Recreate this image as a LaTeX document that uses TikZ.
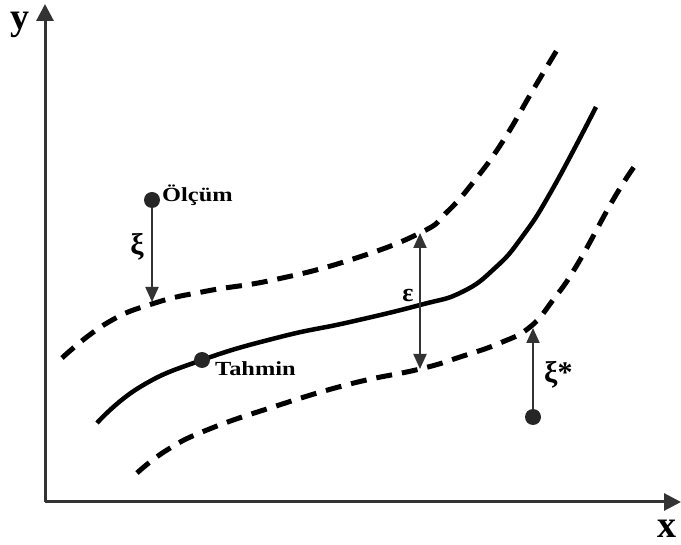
\documentclass[tikz,border=0pt]{standalone}
\usepackage{fontspec}
\setmainfont{Liberation Serif}
\newfontfamily\widefont{Liberation Serif}[FakeStretch=1.22]
\usetikzlibrary{arrows.meta, positioning}

\begin{document}
\begin{tikzpicture}[
    x=1pt, y=-1pt,
    axis/.style={draw=black!80, line width=3pt, -{Triangle[length=17pt, width=17pt]}},
    gap/.style={draw=black!80, line width=2pt, -{Triangle[length=15pt, width=13pt]}},
    band/.style={line width=5pt, dash pattern=on 16pt off 10pt},
    fitline/.style={line width=4.5pt},
    dot/.style={circle, fill=black!85, minimum size=16pt, inner sep=0pt, outer sep=0pt},
    lbl/.style={font=\widefont\fontsize{20}{22}\selectfont\bfseries, inner sep=0pt},
    sym/.style={font=\fontsize{30}{32}\selectfont\bfseries, inner sep=0pt},
    axlbl/.style={font=\fontsize{38}{40}\selectfont\bfseries, inner sep=0pt}
]
    \useasboundingbox (0,0) rectangle (681,545);

    % eksenler
    \coordinate (origin) at (45,502);
    \coordinate (ytip) at (45,4);
    \coordinate (xtip) at (681,502);
    \draw[axis] (origin) -- (ytip);
    \draw[axis] (origin) -- (xtip);
    \node[axlbl] (ylab) at (20,25) {y};
    \node[axlbl] (xlab) at (667,529) {x};

    % egriler
    \draw[band] plot[smooth, tension=0.8] coordinates {(62,358) (107,323) (155,303) (207,291) (273,280) (350,260) (420,233) (447,212) (475,180) (503,141) (533,90) (557,50)};
    \draw[fitline] plot[smooth, tension=0.8] coordinates {(97,423) (140,387) (202,360) (280,337) (350,322) (420,305) (462,292) (495,268) (522,237) (552,190) (596,107)};
    \draw[band] plot[smooth, tension=0.8] coordinates {(137,473) (167,450) (207,430) (273,407) (350,384) (420,369) (460,357) (500,343) (530,327) (553,300) (577,265) (613,200) (634,167)};

    \coordinate (xiend) at (152,302);
    \coordinate (epstop) at (420,233);
    \coordinate (epsbot) at (420,369);
    \coordinate (xistarend) at (533,328);

    % noktalar
    \node[dot] (olcum) at (152,200) {};
    \node[lbl, right=2pt of olcum, yshift=5pt] (olcumlab) {Ölçüm};
    \node[dot] (tahmin) at (202,360) {};
    \node[lbl, right=5pt of tahmin, yshift=-9pt] (tahminlab) {Tahmin};
    \node[dot] (olcumb) at (533,417) {};

    % sapmalar
    \draw[gap] (olcum) -- (xiend);
    \node[sym] (xilab) at (137,247) {ξ};
    \draw[gap, {Triangle[length=15pt, width=13pt]}-{Triangle[length=15pt, width=13pt]}] (epstop) -- (epsbot);
    \node[sym, font=\fontsize{26}{28}\selectfont\bfseries] (epslab) at (408,296) {ε};
    \draw[gap] (olcumb) -- (xistarend);
    \node[sym, right=3pt of olcumb, yshift=42pt] (xistarlab) {ξ*};
\end{tikzpicture}
\end{document}
